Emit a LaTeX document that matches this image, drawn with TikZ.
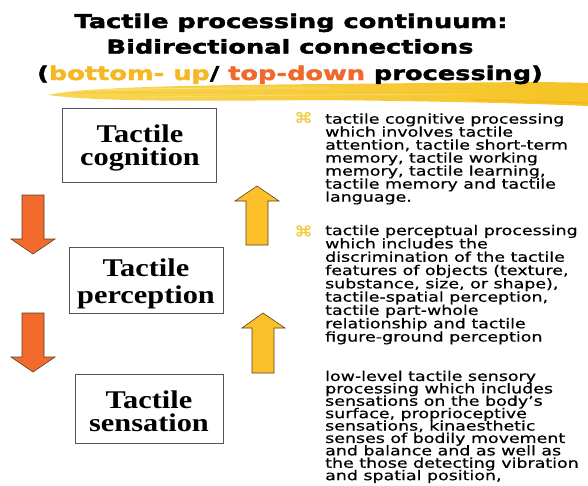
\documentclass[tikz,border=0pt]{standalone}
\usepackage{fontspec}
\newfontfamily\titlefont{DejaVu Sans}[FakeStretch=1.35,FakeBold=2.2]
\newfontfamily\boxfont{Liberation Serif}[FakeStretch=1.19]
\newfontfamily\bodyfont{DejaVu Sans}[FakeStretch=1.29,FakeBold=0.5]
\newfontfamily\markfont{DejaVu Sans}[FakeStretch=1.3,FakeBold=1.2]
\definecolor{upyellow}{HTML}{FBC02A}
\definecolor{downorange}{HTML}{F26A2C}
\definecolor{titleyellow}{HTML}{F6B820}
\definecolor{titleorange}{HTML}{F0692C}
\definecolor{bulletyellow}{HTML}{F0CC3C}
\definecolor{brushA}{HTML}{F8D656}
\definecolor{brushB}{HTML}{F5C324}
\definecolor{boxline}{HTML}{555555}
\definecolor{arrowline}{HTML}{5A4020}
\begin{document}
\begin{tikzpicture}[x=1pt,y=-1pt,
  titleline/.style={font={\titlefont\bfseries\fontsize{19}{26}\selectfont}, anchor=base, inner sep=0pt},
  levelbox/.style={draw=boxline, line width=0.9pt, fill=white, inner sep=0pt},
  leveltext/.style={font={\boxfont\bfseries\fontsize{25.5}{23}\selectfont\lineskiplimit=-30pt}, align=center, inner sep=0pt},
  bodytext/.style={align=left, anchor=north west, inner sep=0pt},
  bulletmark/.style={font={\markfont\fontsize{14.5}{14}\selectfont}, text=bulletyellow, inner sep=0pt},
  downarrow/.style={fill=downorange, draw=arrowline, line width=0.6pt, line join=miter},
  uparrow/.style={fill=upyellow, draw=arrowline, line width=0.6pt, line join=miter}]
\useasboundingbox[fill=white] (0,0) rectangle (588,485);

% brush stroke under the title
\shade[left color=brushA, right color=brushB]
  (48,95) .. controls (80,87) and (200,85) .. (330,84)
  .. controls (450,83) and (540,81) .. (588,83) -- (588,106)
  .. controls (520,103) and (420,101) .. (320,100)
  .. controls (200,101) and (100,102) .. (48,95) -- cycle;
\draw[white, opacity=0.35, line width=0.8pt] (90,90) .. controls (200,88) .. (330,88);
\draw[white, opacity=0.3, line width=0.6pt] (150,97) .. controls (300,95) .. (470,94);
\draw[brushB, opacity=0.6, line width=0.8pt] (70,93) .. controls (200,92) .. (560,92);
\draw[orange!70!brushB, opacity=0.35, line width=1.2pt] (470,100) .. controls (530,101) .. (588,103);

% title
\node[titleline] (t1) at (291,28) {Tactile processing continuum:};
\node[titleline] (t2) at (290,53.5) {Bidirectional connections};
\node[titleline] (t3) at (290,80) {(\textcolor{titleyellow}{bottom- up}/ \textcolor{titleorange}{top-down} processing)};

% level boxes
\node[levelbox, minimum width=154pt, minimum height=74pt] (cognition) at (139,145) {};
\node[leveltext] (cognitiontext) at (140,147.5) {Tactile\\cognition};
\node[levelbox, minimum width=154pt, minimum height=66pt] (perception) at (146,280) {};
\node[leveltext, font={\boxfont\bfseries\fontsize{25.5}{27}\selectfont\lineskiplimit=-30pt}] (perceptiontext) at (146,284) {Tactile\\perception};
\node[levelbox, minimum width=148pt, minimum height=69pt] (sensation) at (149,408.5) {};
\node[leveltext] (sensationtext) at (149,411) {Tactile\\sensation};

% top-down arrows
\draw[downarrow] (22,195) -- (44,195) -- (44,239) -- (55,239) -- (33,254) -- (11,239) -- (22,239) -- cycle;
\draw[downarrow] (22,313) -- (44,313) -- (44,357) -- (55,357) -- (33,372) -- (11,357) -- (22,357) -- cycle;

% bottom-up arrows
\draw[uparrow] (246,245) -- (268,245) -- (268,201) -- (279,201) -- (257,186) -- (235,201) -- (246,201) -- cycle;
\draw[uparrow] (252,373) -- (274,373) -- (274,328) -- (285,328) -- (263,313) -- (242,328) -- (252,328) -- cycle;

% bullets and texts
\node[bulletmark] (b1) at (303.5,117.5) {⌘};
\node[bulletmark] (b2) at (303.5,231) {⌘};
\node[bodytext, font={\bodyfont\fontsize{13.5}{13.0}\selectfont\lineskiplimit=-30pt}] (cogtext) at (325,113.2) {tactile cognitive processing\\
which involves tactile\\
attention, tactile short-term\\
memory, tactile working\\
memory, tactile learning,\\
tactile memory and tactile\\
language.};
\node[bodytext, font={\bodyfont\fontsize{13.5}{13.3}\selectfont\lineskiplimit=-30pt}] (pertext) at (325,224.7) {tactile perceptual processing\\
which includes the\\
discrimination of the tactile\\
features of objects (texture,\\
substance, size, or shape),\\
tactile-spatial perception,\\
tactile part-whole\\
relationship and tactile\\
figure-ground perception};
\node[bodytext, font={\bodyfont\fontsize{13.5}{12.4}\selectfont\lineskiplimit=-30pt}] (sentext) at (325,370.5) {low-level tactile sensory\\
processing which includes\\
sensations on the body’s\\
surface, proprioceptive\\
sensations, kinaesthetic\\
senses of bodily movement\\
and balance and as well as\\
the those detecting vibration\\
and spatial position,};
\end{tikzpicture}
\end{document}
